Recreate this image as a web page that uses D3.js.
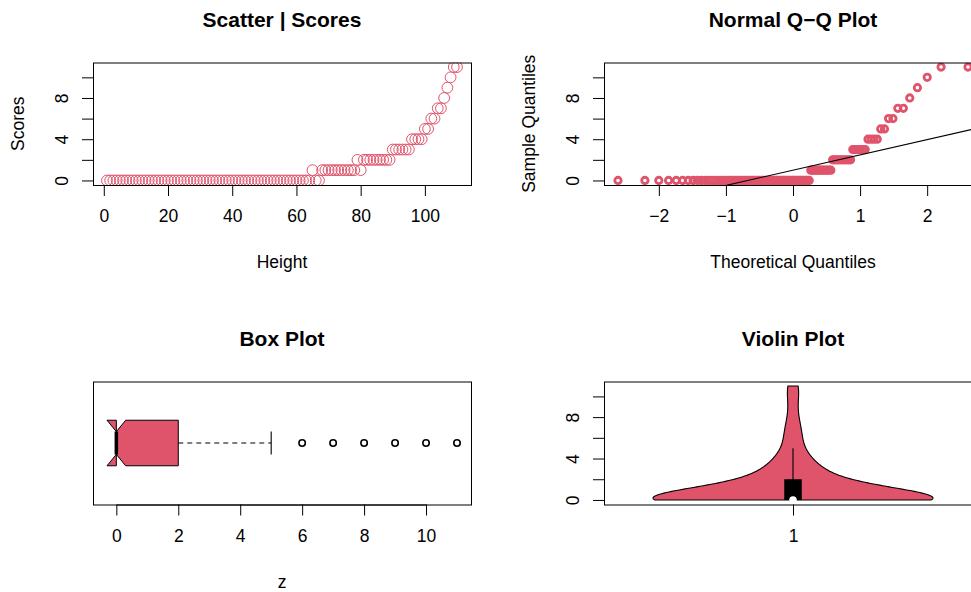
<!DOCTYPE html>
<html><head><meta charset="utf-8">
<script src="https://cdn.jsdelivr.net/npm/d3@7"></script>
<style>
body{margin:0;background:#fff}
svg{display:block}
text{font-family:"Liberation Sans",Arial,Helvetica,sans-serif;fill:#000}
</style>
</head><body>
<svg id="chart" width="971" height="592"></svg>
<script>
// ---------------- data ----------------
const heights = [1,2,3,4,5,6,7,8,9,10,11,12,13,14,15,16,17,18,19,20,21,22,23,24,25,26,27,28,29,30,
  31,32,33,34,35,36,37,38,39,40,41,42,43,44,45,46,47,48,49,50,51,52,53,54,55,56,57,58,59,60,
  61,62,63,64,65,66,67,68,69,70,71,72,73,74,75,76,77,78,79,80,81,82,83,84,85,86,87,88,89,90,
  91,92,93,94,95,96,97,98,99,100,101,102,103,104,105,106,107,108,109,110];
const scores = [0,0,0,0,0,0,0,0,0,0,0,0,0,0,0,0,0,0,0,0,0,0,0,0,0,0,0,0,0,0,
  0,0,0,0,0,0,0,0,0,0,0,0,0,0,0,0,0,0,0,0,0,0,0,0,0,0,0,0,0,0,
  0,0,0,0,1,0,0,1,1,1,1,1,1,1,1,1,1,1,2,1,2,2,2,2,2,2,2,2,2,3,
  3,3,3,3,3,4,4,4,4,5,5,6,6,7,7,8,9,10,11,11];

const scatterXTicks = [0,20,40,60,80,100];
const scatterXTickLabels = ["0","20","40","60","80","100"];
const scoreTicks = [0,2,4,6,8,10];
const scoreTickLabels = ["0","","4","","8",""];
const qqXTicks = [-2,-1,0,1,2];
const qqXTickLabels = ["\u22122","\u22121","0","1","2"];
const boxTicks = [0,2,4,6,8,10];
const boxTickLabels = ["0","2","4","6","8","10"];
const violinXTicks = [1];
const violinXTickLabels = ["1"];
const titles = ["Scatter | Scores","Normal Q\u2212Q Plot","Box Plot","Violin Plot"];
const xTitles = ["Height","Theoretical Quantiles","z",""];
const yTitles = ["Scores","Sample Quantiles","",""];
const markColor = "#DF536B";

// ---------------- layout ----------------
const FONT = '"Liberation Sans",Arial,Helvetica,sans-serif';
const FS = 17.5, TFS = 21;
const panels = [
  {x0:93, x1:471, y0:62.5, y1:185},
  {x0:604, x1:982, y0:62.5, y1:185},
  {x0:93, x1:471, y0:381.5, y1:504.5},
  {x0:604, x1:982, y0:381.5, y1:504.5}
];
const svg = d3.select("#chart");
const pad = (a,b)=>[a-0.04*(b-a), b+0.04*(b-a)];

function qnorm(p){
  const a=[-3.969683028665376e+01,2.209460984245205e+02,-2.759285104469687e+02,1.383577518672690e+02,-3.066479806614716e+01,2.506628277459239e+00];
  const b=[-5.447609879822406e+01,1.615858368580409e+02,-1.556989798598866e+02,6.680131188771972e+01,-1.328068155288572e+01];
  const c=[-7.784894002430293e-03,-3.223964580411365e-01,-2.400758277161838e+00,-2.549732539343734e+00,4.374664141464968e+00,2.938163982698783e+00];
  const d=[7.784695709041462e-03,3.224671290700398e-01,2.445134137142996e+00,3.754408661907416e+00];
  const pl=0.02425, ph=1-pl; let q,r;
  if(p<pl){q=Math.sqrt(-2*Math.log(p));return (((((c[0]*q+c[1])*q+c[2])*q+c[3])*q+c[4])*q+c[5])/((((d[0]*q+d[1])*q+d[2])*q+d[3])*q+1);}
  if(p<=ph){q=p-0.5;r=q*q;return (((((a[0]*r+a[1])*r+a[2])*r+a[3])*r+a[4])*r+a[5])*q/(((((b[0]*r+b[1])*r+b[2])*r+b[3])*r+b[4])*r+1);}
  q=Math.sqrt(-2*Math.log(1-p));return -(((((c[0]*q+c[1])*q+c[2])*q+c[3])*q+c[4])*q+c[5])/((((d[0]*q+d[1])*q+d[2])*q+d[3])*q+1);
}

function xAxis(scale, ticks, labels, y){
  const ax = d3.axisBottom(scale).tickValues(ticks).tickFormat((d,i)=>labels[i]).tickSize(11).tickSizeOuter(0);
  const a = svg.append("g").attr("transform",`translate(0,${y})`).call(ax)
    .attr("font-size",FS).attr("font-family",FONT);
  a.select(".domain").attr("d",`M${scale(ticks[0])+0.5},0.5H${scale(ticks[ticks.length-1])+0.5}`).attr("stroke","#000");
  a.selectAll(".tick line").attr("stroke","#000");
  a.selectAll(".tick text").attr("y",31).attr("dy","0.35em").attr("fill","#000");
}
function yAxis(scale, ticks, labels, x){
  const ax = d3.axisLeft(scale).tickValues(ticks).tickFormat((d,i)=>labels[i]).tickSize(11).tickSizeOuter(0);
  const a = svg.append("g").attr("transform",`translate(${x},0)`).call(ax)
    .attr("font-size",FS).attr("font-family",FONT);
  a.select(".domain").attr("d",`M0.5,${scale(ticks[0])+0.5}V${scale(ticks[ticks.length-1])+0.5}`).attr("stroke","#000");
  a.selectAll(".tick line").attr("stroke","#000");
  a.selectAll(".tick text").attr("x",0).attr("dy","0.35em").attr("text-anchor","middle")
    .attr("transform","translate(-31,0) rotate(-90)").attr("fill","#000");
}
function frame(p){
  svg.append("rect").attr("x",p.x0+0.5).attr("y",p.y0+0.5).attr("width",p.x1-p.x0).attr("height",p.y1-p.y0)
    .attr("fill","none").attr("stroke","#000").attr("stroke-width",1);
}
function titlesFor(i){
  const p = panels[i], cx = (p.x0+p.x1)/2;
  svg.append("text").attr("x",cx).attr("y",p.y0-42.5).attr("dy","0.35em").attr("text-anchor","middle")
    .attr("font-size",TFS).attr("font-weight","bold").text(titles[i]);
  if(xTitles[i]) svg.append("text").attr("x",cx).attr("y",p.y1+77).attr("dy","0.35em").attr("text-anchor","middle")
    .attr("font-size",FS).text(xTitles[i]);
  if(yTitles[i]) svg.append("text").attr("transform",`translate(${p.x0-75},${(p.y0+p.y1)/2}) rotate(-90)`)
    .attr("dy","0.35em").attr("text-anchor","middle").attr("font-size",FS).text(yTitles[i]);
}
function clip(id,p){
  svg.append("clipPath").attr("id",id).append("rect").attr("x",p.x0).attr("y",p.y0).attr("width",p.x1-p.x0).attr("height",p.y1-p.y0);
  return svg.append("g").attr("clip-path",`url(#${id})`);
}

const sorted = scores.slice().sort((a,b)=>a-b);
const n = sorted.length;
const yDom = pad(d3.min(scores), d3.max(scores));

// ---------- Panel 1: scatter ----------
{
  const p = panels[0];
  const x = d3.scaleLinear().domain(pad(d3.min(heights), d3.max(heights))).range([p.x0,p.x1]);
  const y = d3.scaleLinear().domain(yDom).range([p.y1,p.y0]);
  const g = clip("c1",p);
  g.selectAll("circle").data(heights).join("circle")
    .attr("cx",(d)=>x(d)).attr("cy",(d,i)=>y(scores[i])).attr("r",5.4)
    .attr("fill","none").attr("stroke",markColor).attr("stroke-width",1);
  xAxis(x, scatterXTicks, scatterXTickLabels, p.y1);
  yAxis(y, scoreTicks, scoreTickLabels, p.x0);
  frame(p); titlesFor(0);
}

// ---------- Panel 2: Q-Q ----------
{
  const p = panels[1];
  const theo = sorted.map((v,i)=>qnorm((i+1-0.5)/n));
  const x = d3.scaleLinear().domain(pad(d3.min(theo), d3.max(theo))).range([p.x0,p.x1]);
  const y = d3.scaleLinear().domain(yDom).range([p.y1,p.y0]);
  const g = clip("c2",p);
  g.selectAll("circle").data(sorted).join("circle")
    .attr("cx",(d,i)=>x(theo[i])).attr("cy",(d)=>y(d)).attr("r",3.2)
    .attr("fill","none").attr("stroke",markColor).attr("stroke-width",2.8);
  const q1 = d3.quantile(sorted,0.25), q3 = d3.quantile(sorted,0.75);
  const t1 = qnorm(0.25), t3 = qnorm(0.75);
  const slope = (q3-q1)/(t3-t1), icpt = q1 - slope*t1;
  const xd = x.domain();
  g.append("line").attr("x1",x(xd[0])).attr("y1",y(icpt+slope*xd[0]))
    .attr("x2",x(xd[1])).attr("y2",y(icpt+slope*xd[1])).attr("stroke","#000").attr("stroke-width",1.1);
  xAxis(x, qqXTicks, qqXTickLabels, p.y1);
  yAxis(y, scoreTicks, scoreTickLabels, p.x0);
  frame(p); titlesFor(1);
}

// ---------- Panel 3: box plot ----------
{
  const p = panels[2];
  const q1 = d3.quantile(sorted,0.25), med = d3.quantile(sorted,0.5), q3 = d3.quantile(sorted,0.75);
  const iqr = q3-q1;
  const hiW = d3.max(sorted.filter(v=>v<=q3+1.5*iqr));
  const loW = d3.min(sorted.filter(v=>v>=q1-1.5*iqr));
  const outl = Array.from(new Set(sorted.filter(v=>v>hiW||v<loW)));
  const conf = [med-1.58*iqr/Math.sqrt(n), med+1.58*iqr/Math.sqrt(n)];
  const x = d3.scaleLinear().domain(pad(Math.min(conf[0],loW), d3.max(sorted))).range([p.x0,p.x1]);
  const y = d3.scaleLinear().domain(pad(0.5,1.5)).range([p.y1,p.y0]);
  const at = 1, w = 0.2, nn = 0.5;
  const g = clip("c3",p);
  g.append("line").attr("x1",x(q3)).attr("x2",x(hiW)).attr("y1",y(at)).attr("y2",y(at))
    .attr("stroke","#000").attr("stroke-width",1.1).attr("stroke-dasharray","5,4");
  g.append("line").attr("x1",x(q1)).attr("x2",x(loW)).attr("y1",y(at)).attr("y2",y(at))
    .attr("stroke","#000").attr("stroke-dasharray","5,4");
  [hiW, loW].forEach(v=>g.append("line").attr("x1",x(v)).attr("x2",x(v))
    .attr("y1",y(at-w*0.5)).attr("y2",y(at+w*0.5)).attr("stroke","#000").attr("stroke-width",1.1));
  const vals = [q1,q1,conf[0],med,conf[1],q3,q3,conf[1],med,conf[0]];
  const offs = [-1,1,1,nn,1,1,-1,-1,-nn,-1];
  g.append("path").attr("d", d3.line()(vals.map((v,i)=>[x(v), y(at+w*offs[i])]))+"Z")
    .attr("fill",markColor).attr("stroke","#000").attr("stroke-width",1);
  g.append("line").attr("x1",x(med)).attr("x2",x(med)).attr("y1",y(at-w*nn)).attr("y2",y(at+w*nn))
    .attr("stroke","#000").attr("stroke-width",3.5);
  g.selectAll("circle.o").data(outl).join("circle").attr("class","o")
    .attr("cx",(d)=>x(d)).attr("cy",y(at)).attr("r",3.2)
    .attr("fill","none").attr("stroke","#000").attr("stroke-width",1.6);
  xAxis(x, boxTicks, boxTickLabels, p.y1);
  frame(p); titlesFor(2);
}

// ---------- Panel 4: violin ----------
{
  const p = panels[3];
  const x = d3.scaleLinear().domain(pad(0.5,1.5)).range([p.x0,p.x1]);
  const y = d3.scaleLinear().domain(yDom).range([p.y1,p.y0]);
  const sd = d3.deviation(sorted);
  const h = sd*Math.pow(4/(3*n),0.2);
  const lo = d3.min(sorted), hi = d3.max(sorted);
  const grid = d3.range(0,201).map(k=>lo+(hi-lo)*k/200);
  const dens = grid.map(t=>d3.sum(sorted,v=>Math.exp(-0.5*((t-v)/h)**2)));
  const dmax = d3.max(dens), half = 0.4;
  const pts = grid.map((t,i)=>[x(1-half*dens[i]/dmax), y(t)])
    .concat(grid.slice().reverse().map((t,j)=>{const i=grid.length-1-j;return [x(1+half*dens[i]/dmax), y(t)];}));
  const g = clip("c4",p);
  g.append("path").attr("d", d3.line()(pts)+"Z").attr("fill",markColor).attr("stroke","#000").attr("stroke-width",1.1);
  const q1 = d3.quantile(sorted,0.25), med = d3.quantile(sorted,0.5), q3 = d3.quantile(sorted,0.75);
  const iqr = q3-q1;
  const hiW = d3.max(sorted.filter(v=>v<=q3+1.5*iqr));
  const loW = d3.min(sorted.filter(v=>v>=q1-1.5*iqr));
  g.append("line").attr("x1",x(1)).attr("x2",x(1)).attr("y1",y(loW)).attr("y2",y(hiW)).attr("stroke","#000").attr("stroke-width",1.1);
  g.append("rect").attr("x",x(1-0.025)).attr("width",x(1+0.025)-x(1-0.025))
    .attr("y",y(q3)).attr("height",y(q1)-y(q3)).attr("fill","#000");
  g.append("circle").attr("cx",x(1)).attr("cy",y(med)).attr("r",3.8).attr("fill","#fff");
  xAxis(x, violinXTicks, violinXTickLabels, p.y1);
  yAxis(y, scoreTicks, scoreTickLabels, p.x0);
  frame(p); titlesFor(3);
}
</script>
</body></html>
